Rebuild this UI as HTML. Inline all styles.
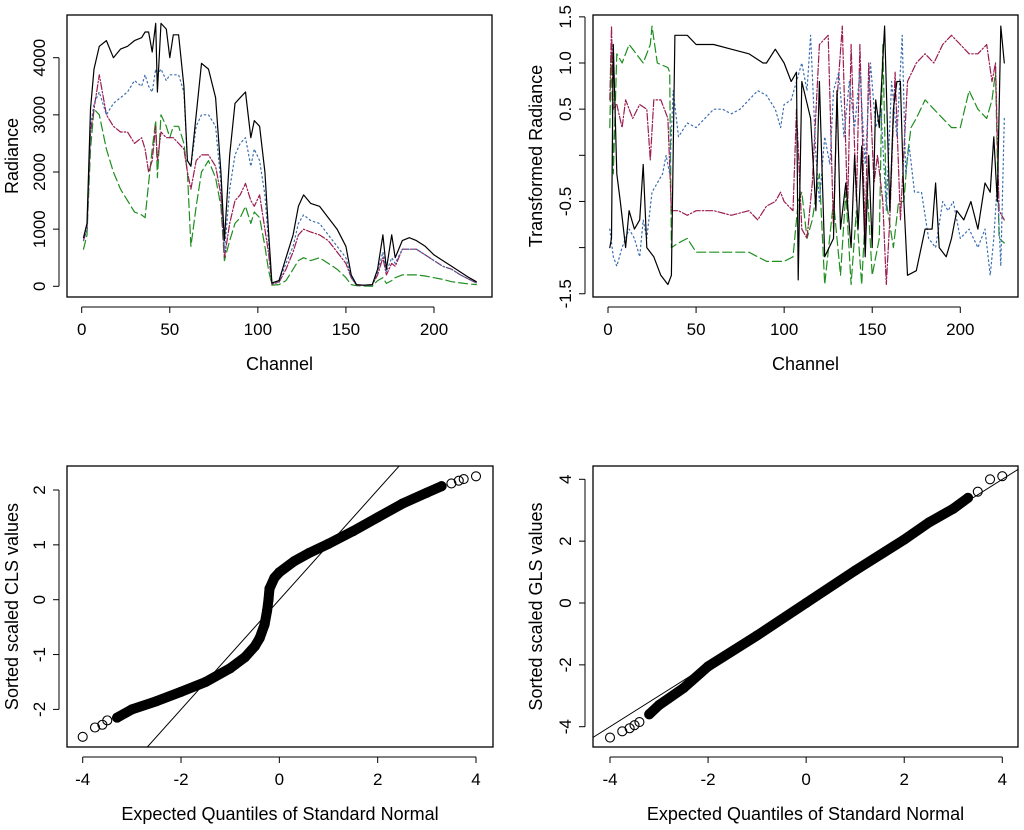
<!DOCTYPE html>
<html><head><meta charset="utf-8"><style>
html,body{margin:0;padding:0;background:#fff;overflow:hidden;width:1024px;height:830px;}
svg{display:block;font-family:"Liberation Sans",Arial,sans-serif;}
</style></head><body>
<svg id="fig" width="1024" height="830" viewBox="0 0 1024 830"></svg>
<script>
// ---------- Data ----------
const p1Channels = [1,3,5,7,10,14,18,22,26,30,34,36,38,40,42,43,45,48,50,52,55,58,60,62,65,68,72,76,79,81,84,87,90,93,96,98,101,104,106,108,112,116,120,123,126,130,135,140,145,150,153,156,160,165,168,171,173,176,178,182,186,190,195,200,205,210,215,220,224];
const p1Black = [850,1100,3100,3800,4200,4300,4000,4150,4200,4300,4350,4450,4450,4100,4600,3400,4600,4500,4000,4400,4400,3500,2200,2100,3000,3900,3800,3300,2000,800,2300,3200,3300,3400,2600,2900,2800,2000,1000,60,100,500,900,1400,1600,1450,1400,1200,1000,700,200,30,20,30,300,900,300,900,500,800,850,800,700,550,450,350,250,150,80];
const p1Blue  = [800,1000,2800,3200,3400,3000,3200,3300,3400,3600,3500,3700,3500,3400,3800,3700,3800,3600,3700,3700,3700,3400,2200,2100,2800,3000,3000,2800,1800,600,1700,2300,2500,2600,2100,2400,2200,1600,800,50,80,400,700,1100,1250,1150,1100,900,700,500,150,20,15,25,250,600,250,500,400,650,650,650,550,450,350,300,200,120,60];
const p1Mag   = [800,1000,2700,3100,3700,3000,2800,2700,2700,2500,2600,2400,2000,2200,2800,2200,2700,2600,2600,2600,2500,2400,2000,1700,2200,2300,2300,2100,1600,500,1100,1500,1600,1800,1500,1400,1600,1000,600,40,70,300,600,900,1000,950,900,800,600,400,150,20,15,25,200,500,200,400,350,650,650,650,550,450,350,300,200,120,60];
const p1Green = [650,900,2400,3100,3000,2400,2000,1700,1500,1300,1250,1200,1800,2400,2900,1900,3000,2800,2600,2800,2800,2500,2000,700,1400,2000,2200,1900,1400,450,800,1100,1200,1400,1100,1300,1200,700,300,20,30,100,300,450,500,450,500,400,300,150,30,10,5,0,100,150,50,100,150,200,200,200,180,150,120,80,60,40,30];
const p1YTicks = [0,1000,2000,3000,4000];
const xTicks = [0,50,100,150,200];

const p2BlackCh = [1,2,3,5,7,10,12,15,18,20,22,26,30,34,36,38,45,50,60,70,80,88,90,95,100,104,107,108,110,115,118,120,123,128,130,132,135,138,140,142,144,146,148,150,152,154,157,160,162,164,166,168,170,175,180,184,186,188,192,195,198,202,206,210,214,217,219,221,223,225];
const p2Black   = [-1.0,-0.9,1.2,-0.2,-0.5,-1.0,-0.6,-0.8,-0.7,-0.1,-1.0,-1.1,-1.3,-1.4,-1.3,1.3,1.3,1.2,1.2,1.15,1.1,1.0,1.0,1.15,1.0,0.8,0.9,-1.35,0.8,0.4,-0.6,0.8,-1.1,-0.9,0.7,-0.8,-0.3,-1.0,0.0,-0.8,0.1,-1.1,0.0,-1.0,0.6,0.3,1.4,-0.6,0.5,0.8,0.8,-0.5,-1.3,-1.25,-0.8,-0.8,-0.3,-1.0,-1.1,-0.9,-0.6,-0.7,-0.5,-0.8,-0.3,-0.4,0.2,-0.5,1.4,1.0];
const p2GreenCh = [1,2,3,5,8,12,16,20,24,25,28,34,35,36,40,45,50,60,70,80,90,100,105,108,110,113,116,120,123,128,132,135,138,141,144,147,150,154,156,158,162,165,168,170,172,175,180,185,190,195,200,205,210,215,218,220,222,225];
const p2Green   = [0.3,1.2,-0.2,1.1,1.0,1.2,1.1,1.0,1.2,1.4,1.0,0.95,0.9,-1.0,-0.95,-0.9,-1.05,-1.05,-1.05,-1.05,-1.15,-1.15,-1.1,-0.5,-0.4,-0.9,-0.7,-0.2,-1.4,-0.5,-1.3,-0.4,-1.4,-0.6,-1.4,-0.3,-1.3,-0.9,1.2,-0.5,-1.0,-0.5,-0.5,0.0,0.3,0.4,0.6,0.5,0.4,0.3,0.3,0.7,0.5,0.4,0.6,0.9,-0.9,-0.95];
const p2MagCh = [1,2,3,5,8,10,14,18,22,24,26,30,34,36,40,45,50,60,70,80,85,90,95,98,100,105,107,110,113,116,120,125,128,130,133,136,138,141,143,146,148,151,153,156,158,160,163,166,170,175,180,185,190,195,200,205,210,215,218,220,222,225];
const p2Mag   = [0.6,1.4,0.5,0.55,0.3,0.6,0.4,0.55,0.5,-0.05,0.6,0.6,0.4,-0.6,-0.6,-0.65,-0.6,-0.6,-0.65,-0.6,-0.7,-0.55,-0.5,-0.4,-0.5,-0.6,0.5,-0.8,-0.9,-0.3,1.2,1.3,-0.8,0.6,1.4,-0.6,1.2,-0.5,1.2,-0.9,1.0,-0.3,0.0,-0.5,-1.4,-0.7,0.9,-0.7,0.8,1.0,1.1,1.0,1.2,1.3,1.2,1.1,1.1,1.2,0.8,1.0,-0.6,-0.7];
const p2BlueCh = [1,3,5,8,12,15,18,20,22,25,28,31,33,35,37,40,45,50,55,60,65,70,75,80,85,90,95,98,100,104,107,110,113,115,118,120,123,126,128,131,134,137,140,143,146,149,152,155,158,161,164,167,169,171,174,178,182,186,190,193,196,200,205,210,214,217,219,221,223,225];
const p2Blue   = [-0.8,-1.1,-1.2,-1.0,-0.8,-0.9,-1.1,-0.7,-0.9,-0.4,-0.3,-0.2,0.0,-0.2,0.7,0.2,0.35,0.3,0.4,0.5,0.5,0.45,0.5,0.6,0.7,0.65,0.5,0.3,0.55,0.6,0.8,1.0,0.7,1.3,0.0,-0.5,0.2,-0.1,0.7,0.9,0.2,0.8,0.3,0.9,-0.1,1.0,0.3,0.5,-0.6,0.8,0.2,1.3,-0.2,0.1,-0.4,-0.4,-0.9,-1.0,-0.5,-0.6,-0.5,-0.9,-0.8,-1.0,-0.8,-1.3,-0.9,-0.3,-1.2,0.4];
const p2YTicks = [-1.5,-1,-0.5,0,0.5,1,1.5];
const p2YLabels = ["-1.5","","-0.5","","0.5","1.0","1.5"];

const clsX = [-4,-3.75,-3.6,-3.5,-3.3,-3.0,-2.5,-2.0,-1.5,-1.0,-0.7,-0.5,-0.4,-0.3,-0.25,-0.22,-0.2,-0.1,0,0.3,0.6,1.0,1.5,2.0,2.5,3.0,3.3,3.5,3.65,3.75,4.0];
const clsY = [-2.5,-2.33,-2.28,-2.2,-2.15,-2.0,-1.85,-1.68,-1.5,-1.25,-1.05,-0.85,-0.7,-0.45,-0.2,0.0,0.2,0.4,0.5,0.7,0.85,1.02,1.25,1.5,1.75,1.95,2.07,2.12,2.17,2.2,2.25];
const glsX = [-4,-3.75,-3.6,-3.5,-3.4,-3.2,-3.0,-2.5,-2,-1,0,1,2,2.5,3.0,3.3,3.5,3.75,4.0];
const glsY = [-4.35,-4.15,-4.05,-3.95,-3.85,-3.6,-3.3,-2.75,-2.05,-1.05,0,1.05,2.05,2.6,3.05,3.4,3.6,4.0,4.1];
const qqXTicks = [-4,-2,0,2,4];
const clsYTicks = [-2,-1,0,1,2];
const glsYTicks = [-4,-2,0,2,4];

// ---------- Drawing ----------
const NS="http://www.w3.org/2000/svg";
const svg=document.getElementById('fig');
function mk(tag,attrs,parent){const e=document.createElementNS(NS,tag);for(const k in attrs)e.setAttribute(k,attrs[k]);(parent||svg).appendChild(e);return e;}
function lin(d0,d1,r0,r1){return v=>r0+(v-d0)*(r1-r0)/(d1-d0);}

function panel(name,box,sx,sy,xt,yt,ylabels,xtitle,ytitle,ytitleX){
  const g=mk('g',{});
  
  
  const r=mk('rect',{x:box[0],y:box[1],width:box[2]-box[0],height:box[3]-box[1],fill:'none',stroke:'#000','stroke-width':1.3},g);
  
  
  const xa=mk('g',{},g);
  
  
  const ay=box[3]+10;
  mk('line',{x1:sx(xt[0]),x2:sx(xt[xt.length-1]),y1:ay,y2:ay,stroke:'#000'},xa);
  xt.forEach(v=>{
    mk('line',{x1:sx(v),x2:sx(v),y1:ay,y2:ay+6,stroke:'#000'},xa);
    const t=mk('text',{x:sx(v),y:ay+28,'font-size':17,'text-anchor':'middle'},xa);t.textContent=String(v);
    
    
  });
  const ya=mk('g',{},g);
  
  
  const ax=box[0]-8;
  mk('line',{x1:ax,x2:ax,y1:sy(yt[0]),y2:sy(yt[yt.length-1]),stroke:'#000'},ya);
  yt.forEach((v,i)=>{
    mk('line',{x1:ax,x2:ax-6,y1:sy(v),y2:sy(v),stroke:'#000'},ya);
    const lab=ylabels?ylabels[i]:String(v);
    const lx=ax-14;
    if(lab){const t=mk('text',{x:lx,y:sy(v),'font-size':17,'text-anchor':'middle',transform:`rotate(-90 ${lx} ${sy(v)})`},ya);t.textContent=lab;
    
    }
  });
  const xtl=mk('text',{x:(box[0]+box[2])/2,y:ay+63,'font-size':18,'text-anchor':'middle'},g);xtl.textContent=xtitle;
  
  
  const cy=(box[1]+box[3])/2;
  const ytl=mk('text',{x:ytitleX,y:cy,'font-size':18,'text-anchor':'middle',transform:`rotate(-90 ${ytitleX} ${cy})`},g);ytl.textContent=ytitle;
  
  
  return g;
}
function series(g,name,xs,ys,sx,sy,color,dash,w){
  const d=xs.map((x,i)=>(i?'L':'M')+sx(x).toFixed(1)+','+sy(ys[i]).toFixed(1)).join('');
  const p=mk('path',{d:d,fill:'none',stroke:color,'stroke-width':w||1.2,'stroke-dasharray':dash||'none','stroke-linejoin':'round','stroke-linecap':'round'},g);
  
  
  return p;
}
const BLACK='#000',BLUE='#3a6eb0',MAG='#9b1c50',GREEN='#1e8f1e';

// Panel 1
{const box=[67,15,492,297];const sx=lin(0,200,81.7,434);const sy=lin(0,4000,286.3,57.7);
 const g=panel('radiance-panel',box,sx,sy,xTicks,p1YTicks,null,'Channel','Radiance',18);
 series(g,'series-green',p1Channels,p1Green,sx,sy,GREEN,'9,4');
 series(g,'series-magenta',p1Channels,p1Mag,sx,sy,MAG,'7,2,1.5,2');
 series(g,'series-blue',p1Channels,p1Blue,sx,sy,BLUE,'1.5,3');
 series(g,'series-black',p1Channels,p1Black,sx,sy,BLACK,null);}
// Panel 2
{const box=[593,15,1018,297];const sx=lin(0,200,608,960.3);const sy=lin(0,1,155.3,63);
 const g=panel('transformed-radiance-panel',box,sx,sy,xTicks,p2YTicks,p2YLabels,'Channel','Transformed Radiance',542);
 series(g,'series-green',p2GreenCh,p2Green,sx,sy,GREEN,'9,4');
 series(g,'series-magenta',p2MagCh,p2Mag,sx,sy,MAG,'7,2,1.5,2');
 series(g,'series-blue',p2BlueCh,p2Blue,sx,sy,BLUE,'1.5,3');
 series(g,'series-black',p2BlackCh,p2Black,sx,sy,BLACK,null);}
// QQ panels
function qq(name,box,sx,sy,yt,xs,ys,ytitle,ytx,lx0,lx1){
  const g=panel(name,box,sx,sy,qqXTicks,yt,null,'Expected Quantiles of Standard Normal',ytitle,ytx);
  const cp=mk('clipPath',{id:name+'-clip'},g);mk('rect',{x:box[0],y:box[1],width:box[2]-box[0],height:box[3]-box[1]},cp);
  const rl=mk('line',{x1:sx(lx0),y1:sy(lx0),x2:sx(lx1),y2:sy(lx1),stroke:'#000','stroke-width':1,'clip-path':`url(#${name}-clip)`},g);
  
  
  const inner=xs.map((x,i)=>i).filter(i=>Math.abs(xs[i])<=3.3);
  series(g,'point-band',inner.map(i=>xs[i]),inner.map(i=>ys[i]),sx,sy,BLACK,null,10);
  xs.forEach((x,i)=>{const c=mk('circle',{cx:sx(x),cy:sy(ys[i]),r:4.5,fill:'none',stroke:'#000','stroke-width':1.1},g);
    
    });
}
qq('cls-qq-panel',[67,466,493,747],lin(-4,4,82.7,476),lin(0,2,599.7,490),clsYTicks,clsX,clsY,'Sorted scaled CLS values',18,-5,5);
qq('gls-qq-panel',[593,466,1018,747],lin(-4,4,610,1002.3),lin(0,4,603,479.3),glsYTicks,glsX,glsY,'Sorted scaled GLS values',542,-5,5);
</script>
</body></html>
